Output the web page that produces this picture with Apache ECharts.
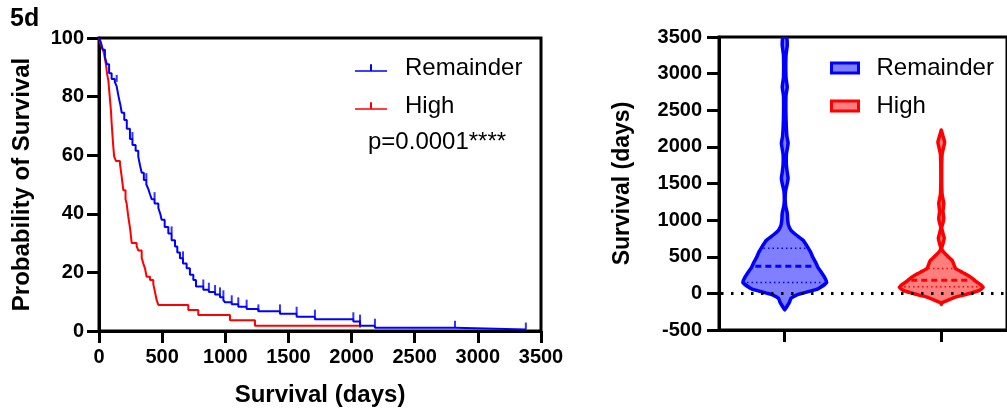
<!DOCTYPE html>
<html><head><meta charset="utf-8">
<script src="https://cdn.jsdelivr.net/npm/echarts@6/dist/echarts.min.js"></script>
<style>html,body{margin:0;padding:0;background:#fff}#c{width:1007px;height:414px}</style>
</head><body><div id="c"></div>
<script>
// ---------- data ----------
const groups = ['Remainder', 'High'];
// Kaplan-Meier steps: [days, survival % after the drop]
const kmRemainder = [[0,100],[15,98.5],[30,96],[47,93.5],[62,91],[80,88],[100,86],[125,85],[140,83.5],[155,80],[170,77],[180,74.5],[200,72],[220,69],[245,65.5],[265,63.5],[290,61.5],[311,59.5],[325,56.5],[338,54],[355,51.5],[375,50],[390,48.5],[405,46.5],[417,45],[440,43.5],[470,42],[485,40],[496,38],[520,35.5],[549,33.3],[575,31],[602,28.8],[620,26.8],[641,24.8],[665,23],[694,21.4],[720,19.2],[747,17.4],[768,15.2],[826,14.1],[870,13.3],[919,12.5],[958,11.5],[985,10.5],[998,9.8],[1051,9.1],[1103,8.3],[1169,7.5],[1262,6.7],[1433,5.9],[1565,4.9],[1710,4.0],[2014,3.2],[2067,1.8],[2185,1.1],[2819,0.5],[3380,0.5]];
const kmHigh = [[0,100],[10,98.2],[25,96.5],[40,94.7],[55,91],[65,87.5],[74,85.5],[85,80],[95,75],[100,71],[108,66],[113,63],[120,59.5],[135,58],[166,57],[180,52.5],[193,48],[210,45],[219,43.5],[232,39],[246,35],[259,30],[298,29],[311,27.5],[338,25],[351,23],[364,21.4],[377,18.5],[404,17.4],[430,16],[443,13.4],[456,10.6],[470,8.9],[707,7.2],[786,5.5],[1037,3.7],[1235,1.8],[2067,1.8]];
// censored observations (tick marks)
const censorRemainder = [[140,85],[265,65.5],[375,51.5],[440,45],[575,33.3],[665,24.8],[826,15.2],[870,14.1],[919,13.3],[958,12.5],[985,11.5],[1051,9.8],[1103,9.1],[1169,8.3],[1262,6.7],[1433,6.7],[1565,5.9],[1710,4.9],[2014,4.0],[2067,3.2],[2185,1.8],[2819,1.1],[3380,0.5]];
const censorHigh = [[2067,1.8]];
// violin profiles: [survival days, relative density]
const violinRemainder = [[-225,0],[-190,0.04],[-123,0.11],[-68,0.15],[-20,0.29],[0,0.41],[40,0.67],[68,0.81],[150,1.0],[219,0.95],[300,0.86],[355,0.79],[420,0.74],[492,0.67],[560,0.62],[628,0.55],[690,0.48],[724,0.44],[790,0.29],[861,0.15],[930,0.09],[1000,0.07],[1093,0.06],[1200,0.02],[1280,0.01],[1400,0.02],[1500,0.06],[1570,0.08],[1650,0.06],[1750,0.04],[1900,0.04],[2049,0.08],[2150,0.05],[2400,0.03],[2700,0.03],[2814,0.06],[2950,0.03],[3250,0.03],[3388,0.06],[3500,0.04]];
const violinHigh = [[-150,0],[-130,0.01],[-96,0.15],[-50,0.34],[-27,0.51],[10,0.74],[41,0.91],[82,1.0],[130,0.91],[170,0.81],[205,0.74],[240,0.65],[273,0.55],[300,0.46],[340,0.34],[380,0.31],[410,0.29],[451,0.26],[492,0.18],[519,0.13],[560,0.06],[615,0.01],[680,0.04],[751,0.07],[820,0.04],[900,0.01],[960,0.04],[1025,0.06],[1120,0.04],[1230,0.06],[1350,0.02],[1600,0.01],[1900,0.02],[2063,0.08],[2150,0.04],[2230,0]];
// quartiles [Q1, median, Q3]
const quartRemainder = [150, 369, 615];
const quartHigh = [90, 178, 340];
const groupPositions = [1, 2];
const pValueText = 'p=0.0001****';
const panelLabel = '5d';

// ---------- styles ----------
const FONT = '"Liberation Sans", Arial, Helvetica, sans-serif';
const BLUE = '#0000ff', RED = '#ff0000';
const VIOLIN_HALF = 0.268; // axis units at density 1
const profiles = [violinRemainder, violinHigh];
const quarts = [quartRemainder, quartHigh];
const strokes = [BLUE, RED];
const fills = ['rgba(0,0,255,0.5)', 'rgba(255,0,0,0.5)'];

function interp(prof, v) {
  for (let i = 0; i < prof.length - 1; i++) {
    const a = prof[i], b = prof[i + 1];
    if (v >= a[0] && v <= b[0]) return a[1] + (b[1] - a[1]) * (v - a[0]) / (b[0] - a[0]);
  }
  return 0;
}
function violinRender(g) {
  return function (params, api) {
    const prof = profiles[g];
    const cx = api.value(0);
    const L = [], R = [];
    prof.forEach(function (p) {
      L.push(api.coord([cx - p[1] * VIOLIN_HALF, p[0]]));
      R.push(api.coord([cx + p[1] * VIOLIN_HALF, p[0]]));
    });
    const pts = L.concat(R.reverse());
    const children = [{
      type: 'polygon', shape: { points: pts, smooth: 0.15 },
      style: { fill: fills[g], stroke: strokes[g], lineWidth: 3.5, lineJoin: 'round' }
    }];
    quarts[g].forEach(function (q, i) {
      const d = interp(prof, q) * VIOLIN_HALF * 0.9;
      const p1 = api.coord([cx - d, q]), p2 = api.coord([cx + d, q]);
      children.push({
        type: 'line', shape: { x1: p1[0], y1: p1[1], x2: p2[0], y2: p2[1] },
        style: { stroke: strokes[g], lineWidth: i === 1 ? 3 : 1.5, lineDash: i === 1 ? [6, 4] : [1.5, 3] }
      });
    });
    return { type: 'group', children: children };
  };
}
// zero reference line, drawn through the axis scale
function zeroLineRender(params, api) {
  const x0 = params.coordSys.x, x1 = params.coordSys.x + params.coordSys.width;
  const y = api.coord([groupPositions[0], api.value(1)])[1];
  return {
    type: 'line', shape: { x1: x0 + 2, y1: y, x2: x1, y2: y },
    style: { stroke: '#000', lineWidth: 3, lineDash: [2.5, 7.5], lineCap: 'butt' }
  };
}

const axisCommon = {
  axisLine: { onZero: false, lineStyle: { color: '#000', width: 3 } },
  axisTick: { length: 12, lineStyle: { color: '#000', width: 3 } },
  axisLabel: { fontSize: 20, fontWeight: 'bold', color: '#000', fontFamily: FONT, formatter: function (v) { return String(v); } },
  splitLine: { show: false },
  nameTextStyle: { fontSize: 24, fontWeight: 'bold', color: '#000', fontFamily: FONT }
};
function ax(extra) {
  const o = {};
  for (const k in axisCommon) o[k] = Object.assign({}, axisCommon[k]);
  for (const k in extra) {
    if (typeof extra[k] === 'object' && !Array.isArray(extra[k]) && o[k]) Object.assign(o[k], extra[k]);
    else o[k] = extra[k];
  }
  return o;
}

const option = {
  animation: false,
  backgroundColor: '#fff',
  textStyle: { fontFamily: FONT },
  grid: [
    { left: 99, top: 38, width: 442, height: 293, show: true, borderColor: '#000', borderWidth: 3 },
    { left: 719, top: 37, width: 293, height: 293, show: true, borderColor: '#000', borderWidth: 3 }
  ],
  xAxis: [
    ax({ type: 'value', gridIndex: 0, min: 0, max: 3500, interval: 500, name: 'Survival (days)', nameLocation: 'middle', nameGap: 52, axisLabel: { margin: 16 } }),
    ax({ type: 'value', gridIndex: 1, min: 0.58, max: 2.42,
         axisTick: { customValues: groupPositions },
         axisLabel: { show: true, customValues: groupPositions, formatter: function () { return ''; } } })
  ],
  yAxis: [
    ax({ type: 'value', gridIndex: 0, min: 0, max: 100, interval: 20, name: 'Probability of Survival', nameLocation: 'middle', nameGap: 65, axisLabel: { margin: 15 } }),
    ax({ type: 'value', gridIndex: 1, min: -500, max: 3500, interval: 500, name: 'Survival (days)', nameLocation: 'middle', nameGap: 85, nameTextStyle: { fontSize: 23 }, axisLabel: { margin: 17 } })
  ],
  legend: [
    {
      left: 355, top: 56, orient: 'vertical', itemGap: 14, itemWidth: 32, itemHeight: 7.5, padding: 0,
      textStyle: { fontSize: 24, color: '#000', fontFamily: FONT, padding: [0, 0, 0, 13] },
      selectedMode: false,
      data: [
        { name: groups[0], icon: 'path://M0,6h32v1.5h-32z M15,0h2v7h-2z', itemStyle: { color: BLUE, borderWidth: 0 } },
        { name: groups[1], icon: 'path://M0,6h32v1.5h-32z M15,0h2v7h-2z', itemStyle: { color: RED, borderWidth: 0 } }
      ]
    },
    {
      left: 830, top: 56, orient: 'vertical', itemGap: 14, itemWidth: 27, itemHeight: 10, padding: 0,
      textStyle: { fontSize: 24, color: '#000', fontFamily: FONT, padding: [0, 0, 0, 13] },
      selectedMode: false,
      data: [
        { name: groups[0], icon: 'rect', itemStyle: { color: fills[0], borderColor: BLUE, borderWidth: 3 } },
        { name: groups[1], icon: 'rect', itemStyle: { color: fills[1], borderColor: RED, borderWidth: 3 } }
      ]
    }
  ],
  graphic: [
    { type: 'text', left: 10, top: 7, style: { text: panelLabel, font: 'bold 25px ' + FONT, fill: '#000' } },
    { type: 'text', x: 368, y: 142, style: { text: pValueText, font: '24px ' + FONT, fill: '#000', textVerticalAlign: 'middle' } }
  ],
  series: [
    { name: groups[0], type: 'line', xAxisIndex: 0, yAxisIndex: 0, step: 'end', showSymbol: false, data: kmRemainder, lineStyle: { color: BLUE, width: 2 }, itemStyle: { color: BLUE }, z: 3 },
    { name: groups[1], type: 'line', xAxisIndex: 0, yAxisIndex: 0, step: 'end', showSymbol: false, data: kmHigh, lineStyle: { color: RED, width: 2 }, itemStyle: { color: RED }, z: 2 },
    { name: 'Remainder censored', type: 'scatter', xAxisIndex: 0, yAxisIndex: 0, data: censorRemainder, symbol: 'rect', symbolSize: [2, 7], symbolOffset: [0, -3.5], itemStyle: { color: BLUE }, z: 3 },
    { name: 'High censored', type: 'scatter', xAxisIndex: 0, yAxisIndex: 0, data: censorHigh, symbol: 'rect', symbolSize: [2, 8], symbolOffset: [0, -2], itemStyle: { color: RED }, z: 2 },
    { name: 'zero', type: 'custom', xAxisIndex: 1, yAxisIndex: 1, data: [[groupPositions[0], 0]], encode: { x: 0, y: 1 }, renderItem: zeroLineRender, silent: true, z: 3 },
    {
      name: groups[0], type: 'custom', xAxisIndex: 1, yAxisIndex: 1, clip: true,
      data: [[groupPositions[0], quartRemainder[1]]], encode: { x: 0, y: 1 }, renderItem: violinRender(0),
      itemStyle: { color: fills[0] }, z: 2
    },
    {
      name: groups[1], type: 'custom', xAxisIndex: 1, yAxisIndex: 1, clip: true,
      data: [[groupPositions[1], quartHigh[1]]], encode: { x: 0, y: 1 }, renderItem: violinRender(1),
      itemStyle: { color: fills[1] }, z: 2
    }
  ]
};
const chart = echarts.init(document.getElementById('c'), null, { renderer: 'canvas' });
chart.setOption(option);
</script></body></html>
